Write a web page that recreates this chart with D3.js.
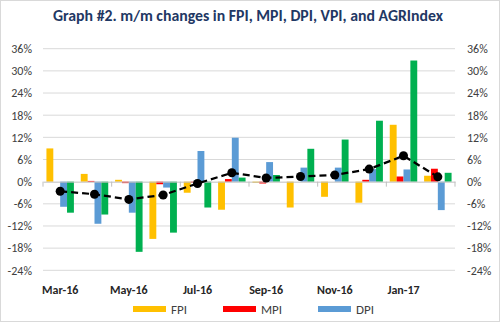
<!DOCTYPE html>
<html><head><meta charset="utf-8">
<script src="https://cdn.jsdelivr.net/npm/d3@7"></script>
<style>body{margin:0;background:#fff}svg{display:block}</style>
</head><body>
<svg id="c" width="500" height="322"></svg>
<script>
const months = ["Mar-16","Apr-16","May-16","Jun-16","Jul-16","Aug-16","Sep-16","Oct-16","Nov-16","Dec-16","Jan-17","Feb-17"];
const fpi = [9.0, 2.1, 0.5, -15.5, -3.0, -7.6, -0.3, -7.0, -4.1, -5.7, 15.4, 1.6];
const mpi = [0.0, 0.2, -0.4, -0.7, -0.3, 0.7, -0.5, 0.0, 0.0, 0.5, 1.4, 3.5];
const dpi = [-6.8, -11.4, -8.4, -1.6, 8.3, 11.9, 5.3, 3.8, 3.8, 3.4, 3.3, -7.7];
const vpi = [-8.4, -8.9, -19.0, -13.8, -7.0, 1.1, 1.8, 8.9, 11.4, 16.5, 32.8, 2.4];
const agr = [-2.6, -3.4, -4.8, -3.6, -0.5, 2.4, 1.0, 1.4, 1.8, 3.4, 7.0, 1.3];
const yTicks = [-24, -18, -12, -6, 0, 6, 12, 18, 24, 30, 36];
const seriesNames = ["FPI","MPI","DPI","VPI"];
const colors = {FPI:"#FFC000", MPI:"#FF0000", DPI:"#5B9BD5", VPI:"#00B050"};
const legendNames = ["FPI","MPI","DPI"];

const svg = d3.select("#c");
const font = "Calibri, Carlito, Lato, 'Open Sans', sans-serif";
svg.append("rect").attr("x",0.5).attr("y",0.5).attr("width",499).attr("height",321)
  .attr("fill","#fff").attr("stroke","#d9d9d9");

const x0 = d3.scaleBand().domain(months).range([43,455]).paddingInner(0).paddingOuter(0);
const y = d3.scaleLinear().domain([-24,36]).range([270.3,48.7]);
const x1 = d3.scaleBand().domain(seriesNames).range([0,x0.bandwidth()]).paddingInner(0).paddingOuter(0.5);

svg.append("text").attr("x",248).attr("y",21).attr("text-anchor","middle")
  .attr("font-family",font).attr("font-weight","bold").attr("font-size",15.8).attr("fill","#1F3864")
  .text("Graph #2. m/m changes in FPI, MPI, DPI, VPI, and AGRIndex");

// gridlines
svg.append("g").selectAll("line").data(yTicks.filter(t=>t!==0)).join("line")
  .attr("x1",43).attr("x2",455).attr("y1",d=>y(d)).attr("y2",d=>y(d))
  .attr("stroke","#d9d9d9").attr("stroke-width",1);

const fmt = d=>d+"%";
const yl = svg.append("g").attr("transform","translate(32,0)")
  .call(d3.axisLeft(y).tickValues(yTicks).tickFormat(fmt).tickSize(0).tickPadding(0));
const yr = svg.append("g").attr("transform","translate(467,0)")
  .call(d3.axisRight(y).tickValues(yTicks).tickFormat(fmt).tickSize(0).tickPadding(0));
[yl,yr].forEach(g=>{g.select(".domain").remove();
  g.selectAll("text").attr("font-family",font).attr("font-size",12).attr("fill","#404040");});

// bars
const data = months.map((m,i)=>({m, vals:[fpi[i],mpi[i],dpi[i],vpi[i]]}));
svg.append("g").selectAll("g").data(data).join("g")
  .attr("transform",d=>`translate(${x0(d.m)},0)`)
  .selectAll("rect").data(d=>d.vals.map((v,k)=>({k:seriesNames[k],v}))).join("rect")
  .attr("x",d=>x1(d.k)).attr("width",x1.bandwidth())
  .attr("y",d=>y(Math.max(0,d.v))).attr("height",d=>Math.abs(y(d.v)-y(0)))
  .attr("fill",d=>colors[d.k]);

// zero axis
const xa = svg.append("g").attr("transform",`translate(0,${y(0)})`)
  .call(d3.axisBottom(x0).tickValues([]).tickSize(0));
xa.select(".domain").attr("stroke","#bfbfbf");
const tickPos = [2,4,6,8,10,12].map(i=> i<12 ? x0(months[i]) : 455);
svg.append("g").selectAll("line").data([43].concat(tickPos)).join("line")
  .attr("x1",d=>d).attr("x2",d=>d).attr("y1",y(0)).attr("y2",y(0)+5).attr("stroke","#bfbfbf");

// x labels
svg.append("g").selectAll("text").data(months.filter((m,i)=>i%2===0)).join("text")
  .attr("x",d=>x0(d)+x0.bandwidth()/2).attr("y",294).attr("text-anchor","middle")
  .attr("font-family",font).attr("font-weight","bold").attr("font-size",12).attr("fill","#262626")
  .text(d=>d);

// AGR line
const line = d3.line().x((d,i)=>x0(months[i])+x0.bandwidth()/2).y(d=>y(d));
svg.append("path").datum(agr).attr("d",line).attr("fill","none")
  .attr("stroke","#000").attr("stroke-width",2.25).attr("stroke-dasharray","7,4");
svg.append("g").selectAll("circle").data(agr).join("circle")
  .attr("cx",(d,i)=>x0(months[i])+x0.bandwidth()/2).attr("cy",d=>y(d)).attr("r",4.5).attr("fill","#000");

// legend
const lx = [133,223,318];
const lg = svg.append("g").selectAll("g").data(legendNames).join("g")
  .attr("transform",(d,i)=>`translate(${lx[i]},306)`);
lg.append("rect").attr("width",33).attr("height",6).attr("fill",d=>colors[d]);
lg.append("text").attr("x",38).attr("y",8).attr("font-family",font).attr("font-size",13).attr("fill","#404040").text(d=>d);
</script>
</body></html>
